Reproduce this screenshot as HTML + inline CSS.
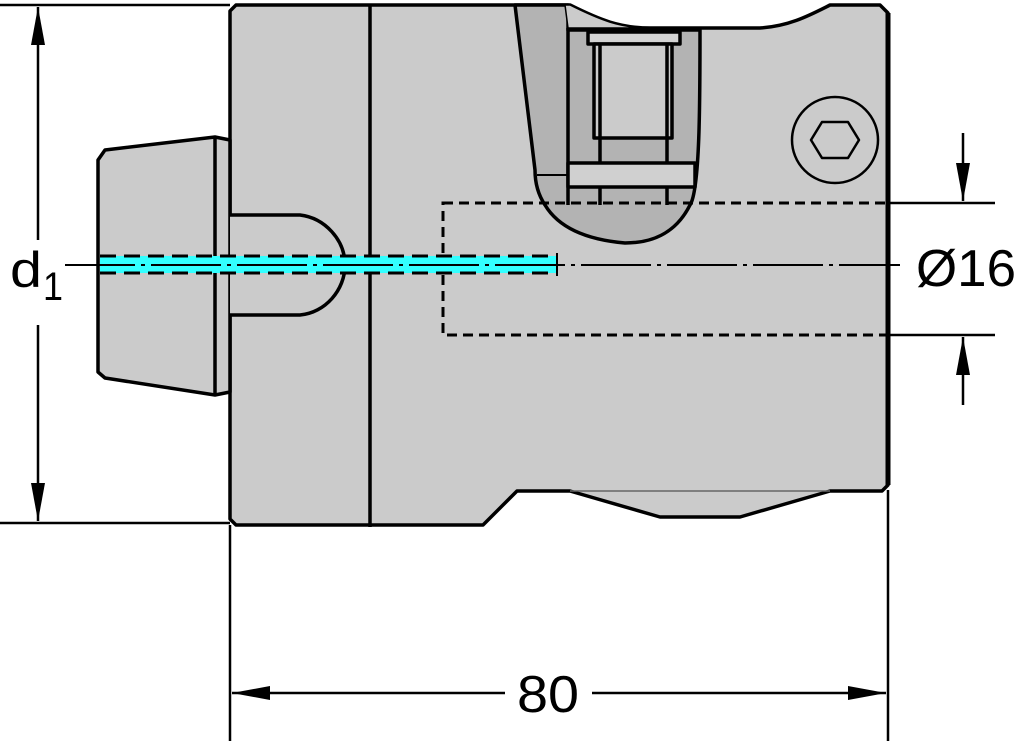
<!DOCTYPE html>
<html><head><style>html,body{margin:0;padding:0;background:#fff;width:1024px;height:741px;overflow:hidden}</style></head>
<body>
<svg width="1024" height="741" viewBox="0 0 1024 741" xmlns="http://www.w3.org/2000/svg">
<g stroke="#000" stroke-width="3.5" fill="#cbcbcb" stroke-linejoin="round">
<path d="M236,5 L570,5 C600,20 620,28 650,28 L760,28 C790,26 810,15 830,5 L880,5 L888,13 L888,485 L882,491 L830,491 L740,517 L660,517 L570,491 L517,491 L483,525 L236,525 L230,519 L230,11 Z"/>
<path d="M570,491 L830,491" stroke-width="1.5" fill="none" stroke="#666"/>
<path d="M215,137 L105,150 L98,160 L98,372 L105,378 L215,395 L230,392 L230,140 Z"/>
<line x1="215" y1="137" x2="215" y2="395"/>
<path d="M230,215 L300,215 C325,218 345,240 345,265 C345,290 325,313 300,315 L230,315" fill="#cbcbcb"/>
<line x1="370" y1="5" x2="370" y2="527"/>
<path d="M515,5 L568,5 L568,30 L700,30 C700,100 700,190 690,205 C675,235 650,243 625,243 C590,240 560,230 545,205 C535,190 535,175 535,170 Z" fill="#b3b3b3"/>
<path d="M565,5 L570,5 C600,20 620,28 650,28 L568,28 Z" fill="#cbcbcb" stroke-width="1.5"/>
<line x1="568" y1="28" x2="568" y2="205"/>
<rect x="588" y="32" width="92" height="12" fill="#d3d3d3"/>
<rect x="594" y="44" width="78" height="94" fill="#cbcbcb"/>
<line x1="600" y1="44" x2="600" y2="205"/>
<line x1="667" y1="44" x2="667" y2="205"/>
<rect x="568" y="163" width="127" height="24" fill="#d0d0d0"/>
<line x1="537" y1="175" x2="568" y2="175" stroke-width="2"/>
<circle cx="835" cy="140" r="43" fill="none" stroke-width="2.5"/>
<path d="M822,122 L848,122 L859,140 L848,158 L822,158 L811,140 Z" fill="none" stroke-width="2.5"/>
</g>
<line x1="888" y1="13" x2="888" y2="485" stroke="#000" stroke-width="5"/>
<rect x="443" y="203" width="445" height="132" fill="none" stroke="#000" stroke-width="3" stroke-dasharray="10,6"/>
<rect x="100" y="256" width="457" height="17" fill="#3ff"/>
<line x1="100" y1="256" x2="557" y2="256" stroke="#000" stroke-width="3" stroke-dasharray="16,8"/>
<line x1="100" y1="273" x2="557" y2="273" stroke="#000" stroke-width="3" stroke-dasharray="16,8"/>
<line x1="557" y1="253" x2="557" y2="276" stroke="#000" stroke-width="2"/>
<line x1="65" y1="265" x2="900" y2="265" stroke="#000" stroke-width="2" stroke-dasharray="70,6,4,6"/>
<g stroke="#000" stroke-width="2.5" fill="none">
<line x1="0" y1="5" x2="230" y2="5"/>
<line x1="0" y1="523" x2="230" y2="523"/>
<line x1="38" y1="7" x2="38" y2="240"/>
<line x1="38" y1="325" x2="38" y2="521"/>
<line x1="230" y1="525" x2="230" y2="741"/>
<line x1="888" y1="490" x2="888" y2="741"/>
<line x1="232" y1="693" x2="505" y2="693"/>
<line x1="592" y1="693" x2="886" y2="693"/>
<line x1="888" y1="203" x2="995" y2="203"/>
<line x1="888" y1="335" x2="995" y2="335"/>
<line x1="963" y1="133" x2="963" y2="201"/>
<line x1="963" y1="405" x2="963" y2="337"/>
</g>
<g fill="#000">
<path d="M38,7 L31,45 L45,45 Z"/>
<path d="M38,521 L31,483 L45,483 Z"/>
<path d="M232,693 L270,686 L270,700 Z"/>
<path d="M886,693 L848,686 L848,700 Z"/>
<path d="M963,201 L956,163 L970,163 Z"/>
<path d="M963,337 L956,375 L970,375 Z"/>
</g>
<g font-family="'Liberation Sans',sans-serif" fill="#000">
<text x="10" y="287" font-size="50" textLength="32" lengthAdjust="spacingAndGlyphs">d</text>
<text x="43" y="300" font-size="40" textLength="20" lengthAdjust="spacingAndGlyphs">1</text>
<text x="517" y="712" font-size="52" textLength="62" lengthAdjust="spacingAndGlyphs">80</text>
<text x="916" y="286" font-size="52" textLength="100" lengthAdjust="spacingAndGlyphs">Ø16</text>
</g>
</svg>
</body></html>
